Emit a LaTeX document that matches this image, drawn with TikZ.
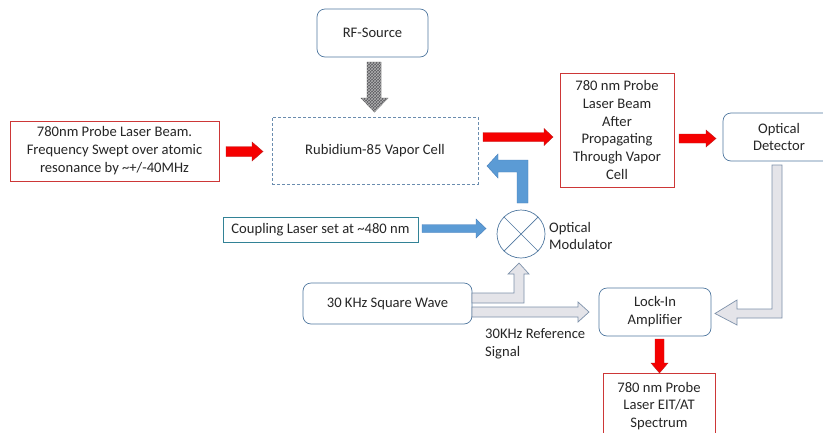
\documentclass[tikz,border=0pt]{standalone}
\usepackage{fontspec}
\setmainfont{Carlito}
\usetikzlibrary{patterns}
\definecolor{boxblue}{RGB}{80,120,160}
\definecolor{boxred}{RGB}{205,55,55}
\definecolor{arrred}{RGB}{245,0,0}
\definecolor{arrredline}{RGB}{190,30,30}
\definecolor{arrblue}{RGB}{91,155,213}
\definecolor{arrblueline}{RGB}{70,125,185}
\definecolor{arrgray}{RGB}{228,228,233}
\definecolor{arrgrayline}{RGB}{125,145,170}
\definecolor{tealline}{RGB}{50,130,150}
\definecolor{hatchgray}{RGB}{90,90,95}
\begin{document}
\begin{tikzpicture}[x=1pt,y=-1pt,
  every node/.style={font=\fontsize{14.6}{17.9}\selectfont, inner sep=0pt, align=center, text=black!85},
  rbox/.style={draw=boxblue, rounded corners=8pt, fill=white, line width=0.7pt},
  redbox/.style={draw=boxred, fill=white, line width=0.8pt},
  dashbox/.style={draw=boxblue!85, dash pattern=on 3pt off 2pt, line width=0.7pt},
  tealbox/.style={draw=tealline, line width=0.8pt},
  redarr/.style={fill=arrred, draw=arrredline, line width=0.4pt},
  bluearr/.style={fill=arrblue, draw=arrblueline, line width=0.4pt},
  grayarr/.style={fill=arrgray, draw=arrgrayline, line width=0.7pt},
  hatcharr/.style={fill=hatchgray, draw=gray!60!black, line width=0.4pt}
]
\useasboundingbox (0,0) rectangle (823,432);
\fill[white] (0,0) rectangle (823,432);
\clip (0,0) rectangle (823,432);

% boxes
\node[redbox, minimum width=209, minimum height=60] (probe) at (114.5,151)
  {780nm Probe Laser Beam.\\Frequency Swept over atomic\\resonance by \textasciitilde+/-40MHz};
\node[rbox, minimum width=111, minimum height=48] (rf) at (372.5,33) {RF-Source};
\node[dashbox, minimum width=206, minimum height=67] (cell) at (375,150.5) {Rubidium-85 Vapor Cell};
\node[redbox, minimum width=114, minimum height=114] (after) at (617,130)
  {780 nm Probe\\Laser Beam\\After\\Propagating\\Through Vapor\\Cell};
\node[rbox, minimum width=112, minimum height=48] (det) at (779,137) {Optical\\Detector};
\node[tealbox, minimum width=195, minimum height=25] (coup) at (320.5,229.5) {Coupling Laser set at \textasciitilde480 nm};
\node[circle, draw=boxblue, line width=0.7pt, minimum size=48] (mod) at (521,234) {};
\draw[boxblue, line width=0.7pt] (mod.north east) -- (mod.south west) (mod.north west) -- (mod.south east);
\node[anchor=west, align=left] (modlab) at (549,236) {Optical\\Modulator};
\node[rbox, minimum width=169, minimum height=41] (sq) at (387.5,303.5) {30 KHz Square Wave};
\node[rbox, minimum width=112, minimum height=48] (lock) at (655,312) {Lock-In\\Amplifier};
\node[redbox, minimum width=112, minimum height=66] (spec) at (659,406) {780 nm Probe\\Laser EIT/AT\\Spectrum};
\node[anchor=west, align=left] (reflab) at (485,343.5) {30KHz Reference\\Signal};

% red arrows
\draw[redarr] (226,146.5) -- (252,146.5) -- (252,142) -- (263,151.5) -- (252,161) -- (252,156.5) -- (226,156.5) -- cycle;
\draw[redarr] (483,132.5) -- (544,132.5) -- (544,128.5) -- (553,137) -- (544,145.5) -- (544,141.5) -- (483,141.5) -- cycle;
\draw[redarr] (679,134) -- (706,134) -- (706,130) -- (716,138.5) -- (706,147) -- (706,143) -- (679,143) -- cycle;
\draw[redarr] (655,339) -- (664,339) -- (664,363) -- (668,363) -- (659.5,373) -- (651,363) -- (655,363) -- cycle;

% hatched arrow RF -> cell
\draw[hatcharr] (367,62) -- (381,62) -- (381,98) -- (388,98) -- (374.5,112) -- (361,98) -- (367,98) -- cycle;
\fill[pattern=crosshatch, pattern color=gray!60] (367,62) -- (381,62) -- (381,98) -- (388,98) -- (374.5,112) -- (361,98) -- (367,98) -- cycle;

% blue arrows
\draw[bluearr] (422,224.5) -- (476,224.5) -- (476,219) -- (486,228.5) -- (476,238) -- (476,232.5) -- (422,232.5) -- cycle;
\draw[bluearr] (528,203) -- (528,160) -- (498,160) -- (498,154) -- (487,166) -- (498,178) -- (498,172) -- (517,172) -- (517,203) -- cycle;

% gray arrows
\draw[grayarr] (472,293) -- (514,293) -- (514,274) -- (508,274) -- (519,263) -- (529,274) -- (524,274) -- (524,303) -- (472,303) -- cycle;
\draw[grayarr] (472,307) -- (578,307) -- (578,302) -- (589,312) -- (578,322) -- (578,317) -- (472,317) -- cycle;
\draw[grayarr] (772,165) -- (782,165) -- (782,318) -- (737,318) -- (737,325) -- (715,313.5) -- (737,300) -- (737,309) -- (772,309) -- cycle;
\end{tikzpicture}
\end{document}
